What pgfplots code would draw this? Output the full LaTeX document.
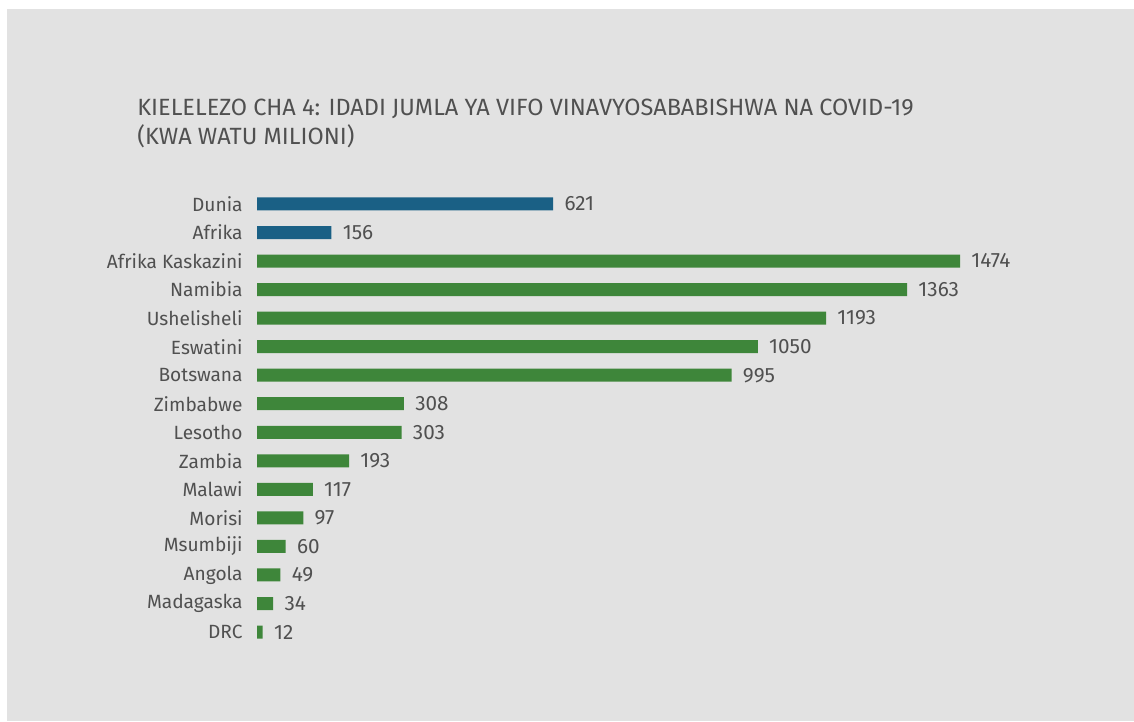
\documentclass[border=0pt]{standalone}
\usepackage{fontspec}
\setmainfont{Fira Sans}
\usepackage{pgfplots}
\usepackage{pgfplotstable}
\pgfplotsset{compat=1.18}

\definecolor{panel}{HTML}{E2E2E2}
\definecolor{txt}{HTML}{505050}
\definecolor{barblue}{HTML}{1A6085}
\definecolor{bargreen}{HTML}{3E863A}

% row 0 at top
\pgfplotstableread{
row value
0 621
1 156
}\regions
\pgfplotstableread{
row value
2 1474
3 1363
4 1193
5 1050
6 995
7 308
8 303
9 193
10 117
11 97
12 60
13 49
14 34
15 12
}\countries

\begin{document}
\begin{tikzpicture}[x=1bp,y=1bp]
  \fill[white] (0,0) rectangle (567,360.5);
  \fill[panel] (3.5,0) rectangle (567,356);
  \node[anchor=base west, text=txt, font=\fontsize{11.8}{14}\selectfont, inner sep=0pt]
    at (68.5,303) {KIELELEZO CHA 4: IDADI JUMLA YA VIFO VINAVYOSABABISHWA NA COVID-19};
  \node[anchor=base west, text=txt, font=\fontsize{11.8}{14}\selectfont, inner sep=0pt]
    at (68.5,288.5) {(KWA WATU MILIONI)};
  \begin{axis}[
      at={(128.5bp,37.35bp)}, anchor=south west,
      scale only axis,
      width=351.5bp, height=228.3bp,
      xbar, bar width=6.5bp, bar shift=0pt,
      xmin=0, xmax=1474,
      ymin=-0.5, ymax=15.5, y dir=reverse,
      hide x axis,
      axis y line*=left, y axis line style={draw=none},
      major tick length=0pt,
      ytick={0,...,15},
      yticklabels={Dunia,Afrika,Afrika Kaskazini,Namibia,Ushelisheli,Eswatini,Botswana,Zimbabwe,Lesotho,Zambia,Malawi,Morisi,Msumbiji,Angola,Madagaska,DRC},
      yticklabel style={font=\fontsize{9.6}{12}\selectfont, text=txt, inner sep=0pt, anchor=east, xshift=-7bp},
      nodes near coords,
      nodes near coords style={font=\fontsize{10.4}{12}\selectfont, text=txt, inner sep=0pt, anchor=west, xshift=5.5bp},
      point meta=explicit symbolic,
      clip=false,
    ]
    \addplot[fill=barblue, draw=none] table[x=value, y=row, meta=value] {\regions};
    \addplot[fill=bargreen, draw=none] table[x=value, y=row, meta=value] {\countries};
  \end{axis}
\end{tikzpicture}
\end{document}
